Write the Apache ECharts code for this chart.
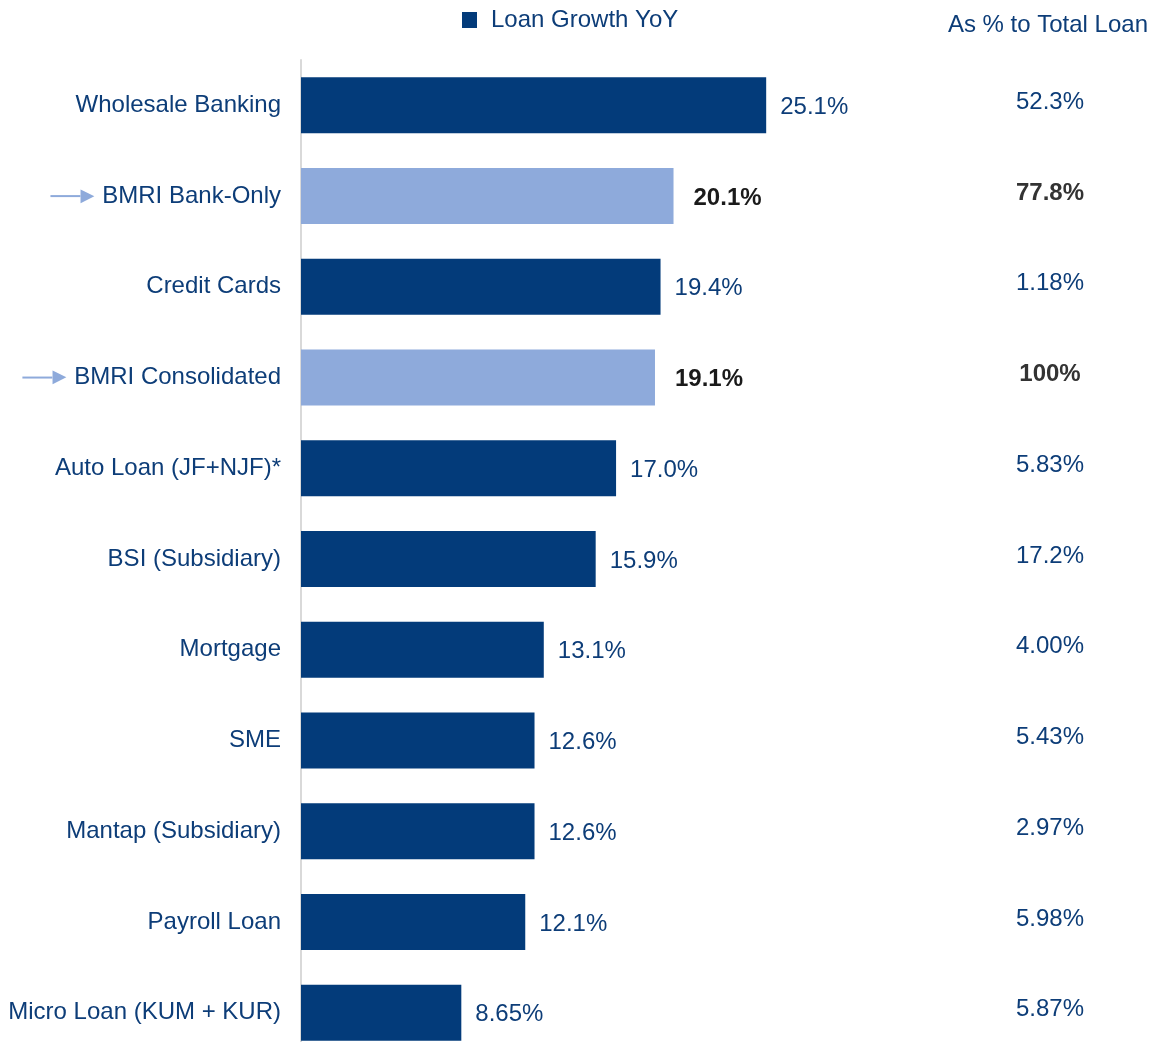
<!DOCTYPE html>
<html>
    <head>
        <meta charset="UTF-8">
        <title></title>
        <script type="text/javascript" src="https://cdn.jsdelivr.net/npm/echarts@6/dist/echarts.min.js"></script>
    </head>
    <body style="margin:0;overflow:hidden;">
        <div id="main" style="width: 1155px;height:1058px;"></div>
    </body>
</html>
<script type="text/javascript">
        // data
        var categories = ['Wholesale Banking', 'BMRI Bank-Only', 'Credit Cards', 'BMRI Consolidated', 'Auto Loan (JF+NJF)*',
                'BSI (Subsidiary)', 'Mortgage', 'SME', 'Mantap (Subsidiary)', 'Payroll Loan', 'Micro Loan (KUM + KUR)'];
        var growth = [25.1, 20.1, 19.4, 19.1, 17.0, 15.9, 13.1, 12.6, 12.6, 12.1, 8.65];
        var growthLabels = ['25.1%', '20.1%', '19.4%', '19.1%', '17.0%', '15.9%', '13.1%', '12.6%', '12.6%', '12.1%', '8.65%'];
        var shareOfTotal = [52.3, 77.8, 1.18, 100, 5.83, 17.2, 4.00, 5.43, 2.97, 5.98, 5.87];
        var shareLabels = ['52.3%', '77.8%', '1.18%', '100%', '5.83%', '17.2%', '4.00%', '5.43%', '2.97%', '5.98%', '5.87%'];
        var highlighted = ['BMRI Bank-Only', 'BMRI Consolidated'];

        var navy = '#033b7a';
        var light = '#8eaadb';
        var textBlue = '#0d3d78';
        var font = 'Liberation Sans, Arial, sans-serif';

        var myChart = echarts.init(document.getElementById('main'));

        var barData = growth.map(function(v, i) {
                var hi = highlighted.indexOf(categories[i]) >= 0;
                return {
                        value: v,
                        itemStyle: { color: hi ? light : navy },
                        label: hi ? { fontWeight: 'bold', color: '#1a1a1a', distance: 20 } : {}
                };
        });
        var shareData = shareOfTotal.map(function(v, i) {
                var hi = highlighted.indexOf(categories[i]) >= 0;
                return {
                        value: [0, categories[i], v],
                        label: hi ? { fontWeight: 'bold', color: '#333333' } : {}
                };
        });

        option = {
                animation: false,
                backgroundColor: '#ffffff',
                textStyle: { fontFamily: font },
                title: {
                        text: 'As % to Total Loan',
                        right: 2,
                        top: 8,
                        textStyle: { fontSize: 24, fontWeight: 'normal', color: textBlue, fontFamily: font }
                },
                legend: {
                        data: ['Loan Growth YoY'],
                        left: 457,
                        top: 3,
                        icon: 'rect',
                        itemWidth: 15,
                        itemHeight: 16,
                        textStyle: { fontSize: 24, color: textBlue, fontFamily: font, padding: [0, 0, 0, 9] }
                },
                grid: [
                        { left: 301, top: 60, bottom: 0, width: 556 },
                        { left: 1000, top: 60, bottom: 0, width: 100 }
                ],
                xAxis: [
                        { type: 'value', gridIndex: 0, min: 0, max: 30, show: false },
                        { type: 'value', gridIndex: 1, min: -1, max: 1, show: false }
                ],
                yAxis: [
                        {
                                type: 'category',
                                gridIndex: 0,
                                inverse: true,
                                data: categories,
                                axisTick: { show: false },
                                axisLine: { show: true, lineStyle: { color: '#d9d9d9', width: 2 } },
                                axisLabel: {
                                        margin: 20,
                                        fontSize: 24,
                                        color: textBlue,
                                        fontFamily: font,
                                        formatter: function(v) {
                                                if (highlighted.indexOf(v) >= 0) {
                                                        return '{ln|}{hd|▶}{gap|}' + v;
                                                }
                                                return v;
                                        },
                                        rich: {
                                                ln: { width: 30, height: 2, backgroundColor: light },
                                                hd: { color: light, fontSize: 18, fontFamily: 'DejaVu Sans' },
                                                gap: { width: 8 }
                                        }
                                }
                        },
                        {
                                type: 'category',
                                gridIndex: 1,
                                inverse: true,
                                data: categories,
                                show: false
                        }
                ],
                series: [
                        {
                                name: 'Loan Growth YoY',
                                type: 'bar',
                                xAxisIndex: 0,
                                yAxisIndex: 0,
                                barWidth: 56,
                                itemStyle: { color: navy },
                                label: {
                                        show: true,
                                        position: 'right',
                                        distance: 14,
                                        offset: [0, 2],
                                        fontSize: 24,
                                        color: textBlue,
                                        fontFamily: font,
                                        formatter: function(p) { return growthLabels[p.dataIndex]; }
                                },
                                data: barData
                        },
                        {
                                name: 'As % to Total Loan',
                                type: 'scatter',
                                xAxisIndex: 1,
                                yAxisIndex: 1,
                                symbolSize: 1,
                                itemStyle: { color: 'rgba(0,0,0,0)', opacity: 1 },
                                label: {
                                        show: true,
                                        position: 'inside',
                                        offset: [0, -3],
                                        fontSize: 24,
                                        color: textBlue,
                                        fontFamily: font,
                                        formatter: function(p) { return shareLabels[p.dataIndex]; }
                                },
                                data: shareData
                        }
                ]
        };
        myChart.setOption(option);
</script>
